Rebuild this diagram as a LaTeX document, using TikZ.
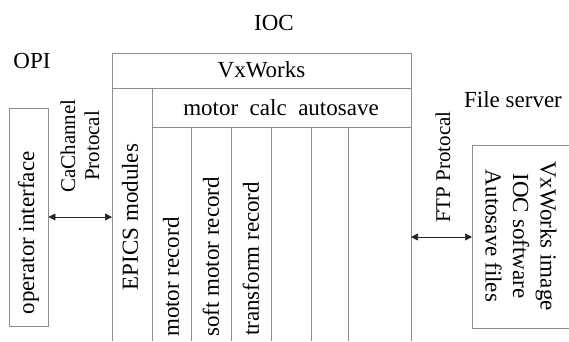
\documentclass[tikz,border=0pt]{standalone}
\usepackage{fontspec}
\setmainfont{Liberation Serif}
\usetikzlibrary{arrows.meta}
\begin{document}
\begin{tikzpicture}[x=1pt,y=-1pt,
  boxline/.style={draw=black!45, line width=0.9pt},
  big/.style={font=\fontsize{23}{27.5}\selectfont, inner sep=0pt},
  small/.style={font=\fontsize{21}{24}\selectfont, inner sep=0pt},
  link/.style={{Triangle[length=7pt,width=7pt]}-{Triangle[length=7pt,width=7pt]}, line width=0.7pt, draw=black!85}]
\useasboundingbox (0,0) rectangle (569,341);
% titles
\node[big] (ioc) at (274,23) {IOC};
\node[big] (opi) at (32,61) {OPI};
\node[big] (fs) at (513,100) {File server};
% operator interface box
\node[boxline, minimum width=39pt, minimum height=218pt, inner sep=0pt] (opibox) at (28.5,217) {};
\node[big, rotate=90] (opitxt) at (28.5,233) {operator interface};
% IOC structure
\draw[boxline] (112,341) -- (112,53) -- (411,53) -- (411,341);
\draw[boxline] (112,88) -- (411,88);
\draw[boxline] (152,341) -- (152,88);
\draw[boxline] (152,127) -- (411,127);
\foreach \xx in {191,231,271,311,348} \draw[boxline] (\xx,127) -- (\xx,341);
\node[big] (vx) at (261.5,70) {VxWorks};
\node[big] (mca) at (281,108) {motor\ \ calc\ \ autosave};
\node[big, rotate=90] (epics) at (130,217) {EPICS modules};
\node[big, rotate=90, anchor=west] (mr) at (171,337) {motor record};
\node[big, rotate=90, anchor=west] (smr) at (211,337) {soft motor record};
\node[big, rotate=90, anchor=west] (tr) at (251,336) {transform record};
\coordinate (epicsL) at (112,217);
\coordinate (iocR) at (411,237);
% protocols
\node[small, rotate=90, align=center] (cac) at (80,146) {CaChannel\\Protocal};
\node[small, rotate=90] (ftp) at (443,167) {FTP Protocal};
% file server box
\draw[boxline] (571,145) -- (472,145) -- (472,328) -- (571,328);
\coordinate (fileL) at (472,237);
\node[big, rotate=-90, align=center] (files) at (521,236) {VxWorks image\\IOC software\\Autosave files};
% connectors
\draw[link] (opibox.east |- epicsL) -- (epicsL);
\draw[link] (iocR) -- (fileL);
\end{tikzpicture}
\end{document}
